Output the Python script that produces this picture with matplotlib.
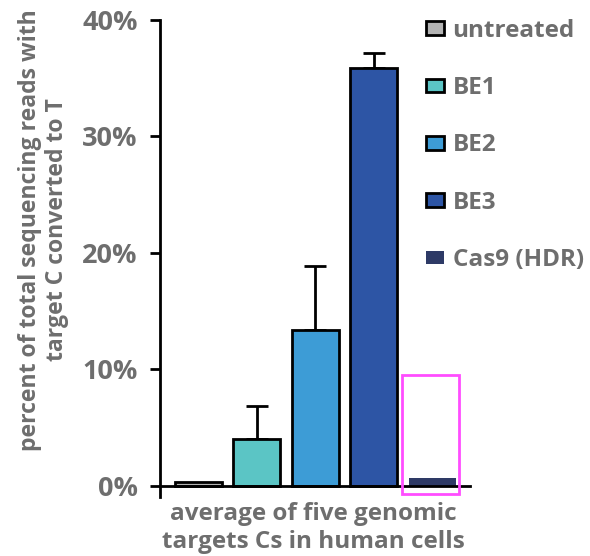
import matplotlib.pyplot as plt
from matplotlib.patches import Patch, Rectangle

# datos
grupos = ['untreated', 'BE1', 'BE2', 'BE3', 'Cas9 (HDR)']
valores = [0.35, 4.0, 13.4, 35.9, 0.7]
errores = [0.0, 2.9, 5.5, 1.3, 0.0]
colores = ['#b3b3b3', '#5bc5c5', '#3d9cd6', '#2d55a5', '#2e3a66']
bordes = ['black', 'black', 'black', 'black', 'none']

gris = '#6e6e6e'
plt.rcParams['font.family'] = ['Open Sans', 'DejaVu Sans']
plt.rcParams['font.weight'] = 'bold'

fig = plt.figure(figsize=(5.9, 5.56), dpi=100)
ax = fig.add_axes([160 / 590, 59 / 556, 310 / 590, 477 / 556])

x = range(len(grupos))
for i in x:
    ax.bar(i, valores[i], width=0.8, color=colores[i], edgecolor=bordes[i],
           linewidth=2, zorder=2)
    if errores[i] > 0:
        ax.errorbar(i, valores[i], yerr=[[0], [errores[i]]], fmt='none',
                    ecolor='black', elinewidth=2, capsize=8, capthick=2, zorder=1)

# recuadro magenta alrededor de Cas9
ax.add_patch(Rectangle((3.48, -0.7), 0.98, 10.2, fill=False, edgecolor='#ff4dff',
                       linewidth=2, clip_on=False, zorder=3))

ax.set_xlim(-0.65, 4.64)
ax.set_ylim(-0.95, 40)
ax.set_yticks([0, 10, 20, 30, 40])
ax.set_yticklabels(['0%', '10%', '20%', '30%', '40%'])
ax.set_xticks([])
ax.spines['top'].set_visible(False)
ax.spines['right'].set_visible(False)
ax.spines['bottom'].set_position(('data', 0))
ax.spines['left'].set_linewidth(2)
ax.spines['bottom'].set_linewidth(2)
ax.tick_params(axis='y', length=7, width=2, labelsize=19.5, labelcolor=gris, pad=9)

ax.set_ylabel('percent of total sequencing reads with\ntarget C converted to T',
              fontsize=16.6, color=gris, fontweight='bold', linespacing=1.15)
ax.yaxis.set_label_coords(-0.295, 0.56)
fig.text(313 / 590, 28 / 556, 'average of five genomic\ntargets Cs in human cells',
         ha='center', va='center', fontsize=17.5, color=gris, fontweight='bold',
         linespacing=1.25)

manejadores = [Patch(facecolor=colores[i], edgecolor=bordes[i], linewidth=2)
               for i in x]
ley = fig.legend(manejadores, grupos, loc='upper left',
                 bbox_to_anchor=(404 / 590, 1 + 3 / 556), frameon=False,
                 fontsize=17.5, handlelength=0.75, handleheight=0.5,
                 handletextpad=0.35, labelspacing=1.37)
for t in ley.get_texts():
    t.set_color(gris)
    t.set_fontweight('bold')

fig.savefig('out.png', dpi=100)
